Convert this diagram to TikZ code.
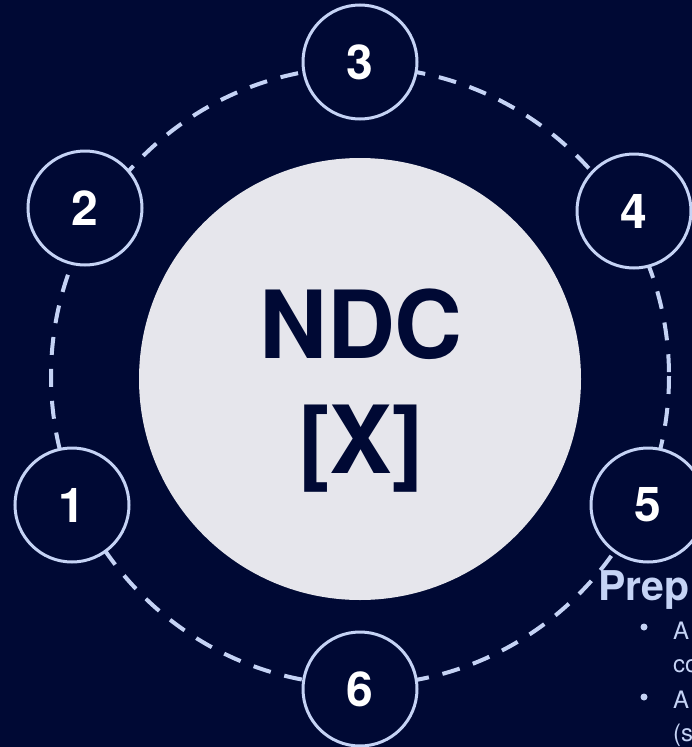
\documentclass[tikz,border=0pt]{standalone}
\usepackage{fontspec}
\setmainfont{TeX Gyre Heros}
\definecolor{bg}{RGB}{0,9,52}
\definecolor{ring}{RGB}{197,211,245}
\definecolor{corefill}{RGB}{230,230,236}
\tikzset{
  orbit/.style={draw=ring, line width=4pt, dash pattern=on 18pt off 14pt},
  stage/.style={circle, draw=ring, line width=3pt, fill=bg, minimum size=114pt, inner sep=0pt,
    text=white, font=\bfseries\fontsize{48}{50}\selectfont},
  core/.style={circle, fill=corefill, minimum size=442pt, inner sep=0pt},
  coretext/.style={anchor=base, inner sep=0pt, text=bg, font=\bfseries\fontsize{94}{110}\selectfont},
  headtext/.style={anchor=base west, inner sep=0pt, text=ring, font=\bfseries\fontsize{41}{44}\selectfont},
  bodytext/.style={anchor=base west, inner sep=0pt, text=ring, font=\fontsize{24}{28}\selectfont},
  dot/.style={circle, fill=ring, minimum size=7pt, inner sep=0pt}
}
\begin{document}
\begin{tikzpicture}[x=1pt,y=-1pt]
\useasboundingbox (0,0) rectangle (692,747);
\clip (0,0) rectangle (692,747);
\fill[bg] (0,0) rectangle (692,747);
\coordinate (oc) at (360,376);
\draw[orbit] (oc) circle[radius=309];
\node[core] (core) at (360,379) {};
\node[coretext] (ndc) at (361,358) {NDC};
\node[coretext] (x) at (361,473) {[X]};
\node[stage] (s1) at (72,505) {1};
\node[stage] (s2) at (85,208) {2};
\node[stage] (s3) at (360,62) {3};
\node[stage] (s4) at (634,211) {4};
\node[stage] (s5) at (648,505) {5};
\node[stage] (s6) at (360,689) {6};
\node[headtext] (prep) at (598,600) {Prep};
\node[dot] (b1) at (644,627) {};
\node[dot] (b2) at (644,697) {};
\node[bodytext] (t1) at (673,639) {A};
\node[bodytext] (t2) at (673,672) {co};
\node[bodytext] (t3) at (673,708) {A};
\node[bodytext] (t4) at (673,741) {(s};
\end{tikzpicture}
\end{document}
